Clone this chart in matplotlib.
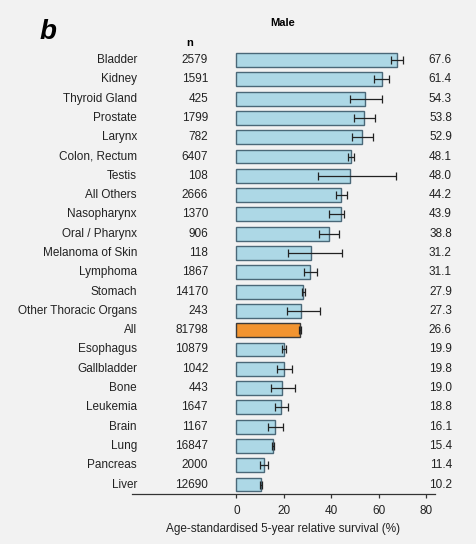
import matplotlib.pyplot as plt
import numpy as np

plt.rcParams['font.family'] = ['Liberation Sans', 'DejaVu Sans']

# data
sites = ['Bladder', 'Kidney', 'Thyroid Gland', 'Prostate', 'Larynx', 'Colon, Rectum',
         'Testis', 'All Others', 'Nasopharynx', 'Oral / Pharynx', 'Melanoma of Skin',
         'Lymphoma', 'Stomach', 'Other Thoracic Organs', 'All', 'Esophagus',
         'Gallbladder', 'Bone', 'Leukemia', 'Brain', 'Lung', 'Pancreas', 'Liver']
n_cases = [2579, 1591, 425, 1799, 782, 6407, 108, 2666, 1370, 906, 118, 1867, 14170,
           243, 81798, 10879, 1042, 443, 1647, 1167, 16847, 2000, 12690]
survival = [67.6, 61.4, 54.3, 53.8, 52.9, 48.1, 48.0, 44.2, 43.9, 38.8, 31.2, 31.1, 27.9,
            27.3, 26.6, 19.9, 19.8, 19.0, 18.8, 16.1, 15.4, 11.4, 10.2]
ci_low = [65.1, 58.1, 47.9, 49.6, 48.5, 46.8, 34.2, 41.8, 38.9, 34.9, 21.6, 28.4, 27.4,
          21.1, 26.2, 19.0, 16.9, 14.5, 16.2, 13.4, 15.0, 9.9, 9.8]
ci_high = [70.1, 64.3, 61.4, 58.3, 57.6, 49.5, 67.0, 46.7, 45.3, 43.2, 44.6, 33.8, 28.8,
           35.2, 27.0, 20.8, 23.2, 24.6, 21.6, 19.4, 15.9, 13.4, 10.7]
ticks = [0, 20, 40, 60, 80]

bg = '#f2f2f2'
fig = plt.figure(figsize=(4.77, 5.44), dpi=100, facecolor=bg)
ax = fig.add_axes([132/477, 1-494/544, 303/477, 454/544])
ax.set_facecolor(bg)

y = np.arange(len(sites))
colors = ['#f29430' if s == 'All' else '#add8e6' for s in sites]
edges = ['#3a3a3a' if s == 'All' else '#4a6878' for s in sites]
ax.barh(y, survival, height=0.72, color=colors, edgecolor=edges, linewidth=1.0, zorder=2)
err = [np.array(survival) - np.array(ci_low), np.array(ci_high) - np.array(survival)]
ax.errorbar(survival, y, xerr=err, fmt='none', ecolor='#222222', elinewidth=0.9,
            capsize=3, capthick=0.9, zorder=3)

ax.set_xlim(-44, 83.6)
ax.set_ylim(22.49, -1.04)
for s in ['top', 'left', 'right']:
    ax.spines[s].set_visible(False)
ax.spines['bottom'].set_color('#333333')
ax.spines['bottom'].set_linewidth(0.9)
ax.set_yticks([])
ax.set_xticks(ticks)
ax.tick_params(axis='x', length=3, width=0.9, color='#333333', labelsize=8.5,
               labelcolor='#222222', pad=5)
ax.set_xlabel('Age-standardised 5-year relative survival (%)', fontsize=8.5,
              color='#222222', labelpad=4)

for i, (s, n, v) in enumerate(zip(sites, n_cases, survival)):
    ax.text(-41.9, i, s, ha='right', va='center', fontsize=8.5, color='#222222')
    ax.text(-12.0, i, str(n), ha='right', va='center', fontsize=8.5, color='#222222')
    ax.text(90.7, i, f'{v:.1f}', ha='right', va='center', fontsize=8.5,
            color='#222222', clip_on=False)

ax.text(-19.5, -0.88, 'n', ha='center', va='center', fontsize=8, fontweight='bold')
ax.text(19.5, -1.92, 'Male', ha='center', va='center', fontsize=8, fontweight='bold',
        clip_on=False)
fig.text(48/477, 1-32/544, 'b', ha='center', va='center', fontsize=20,
         fontweight='bold', fontstyle='italic')

fig.savefig('out.png', dpi=100, facecolor=bg)
